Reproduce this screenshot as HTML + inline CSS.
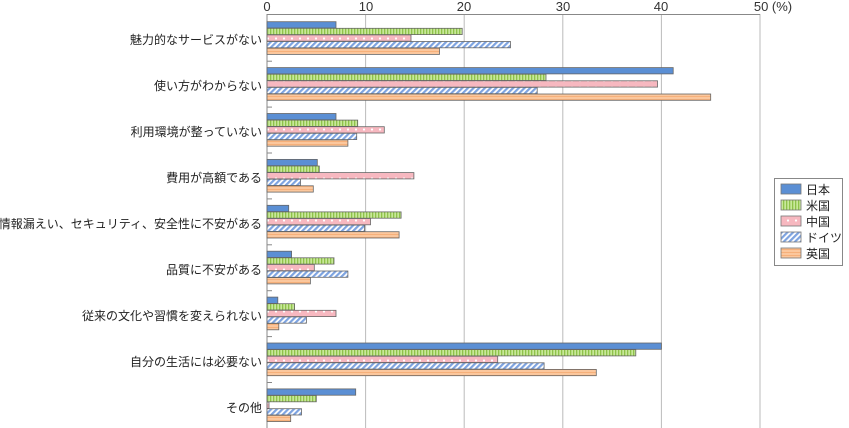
<!DOCTYPE html>
<html><head><meta charset="utf-8"><style>
body{margin:0;background:#fff;width:849px;height:428px;overflow:hidden}
svg{display:block;font-family:"Liberation Sans","Noto Sans CJK JP",sans-serif}
</style></head><body>
<svg id="s" width="849" height="428" viewBox="0 0 849 428">
<defs>
<pattern id="pJ" width="4" height="4" patternUnits="userSpaceOnUse"><rect width="4" height="4" fill="#5b8fd4"/></pattern>
<pattern id="pU" width="3" height="4" patternUnits="userSpaceOnUse"><rect width="3" height="4" fill="#c8e89a"/><rect width="1.3" height="4" fill="#8fc24a"/></pattern>
<pattern id="pC" width="8" height="7" patternUnits="userSpaceOnUse"><rect width="8" height="7" fill="#f7b8c0"/><circle cx="4" cy="3.5" r="1.1" fill="#fff"/></pattern>
<pattern id="pG" width="4" height="4" patternUnits="userSpaceOnUse" patternTransform="rotate(45)"><rect width="4" height="4" fill="#fff"/><rect width="2.2" height="4" fill="#7da3e0"/></pattern>
<pattern id="pE" width="4" height="3" patternUnits="userSpaceOnUse"><rect width="4" height="3" fill="#fbc79d"/><rect width="4" height="1" fill="#f6b07a"/></pattern>
</defs>
<g stroke="#bbb" stroke-width="1">
<line x1="365.6" y1="14" x2="365.6" y2="428"/><line x1="464.2" y1="14" x2="464.2" y2="428"/>
<line x1="562.8" y1="14" x2="562.8" y2="428"/><line x1="661.4" y1="14" x2="661.4" y2="428"/>
<line x1="760" y1="14" x2="760" y2="428"/>
</g>
<line x1="267" y1="14.5" x2="760" y2="14.5" stroke="#888"/>
<line x1="267" y1="14" x2="267" y2="428" stroke="#888"/>
<g font-size="13" fill="#333" text-anchor="middle">
<text x="267" y="11">0</text><text x="366" y="11">10</text><text x="464" y="11">20</text><text x="563" y="11">30</text><text x="661" y="11">40</text><text x="773" y="11">50 (%)</text>
</g>
<g id="bars"></g>
<g font-size="12" fill="#222" text-anchor="end">
<text x="262" y="44">魅力的なサービスがない</text>
<text x="262" y="90">使い方がわからない</text>
<text x="262" y="136">利用環境が整っていない</text>
<text x="262" y="182">費用が高額である</text>
<text x="262" y="228">情報漏えい、セキュリティ、安全性に不安がある</text>
<text x="262" y="274">品質に不安がある</text>
<text x="262" y="320">従来の文化や習慣を変えられない</text>
<text x="262" y="366">自分の生活には必要ない</text>
<text x="262" y="412">その他</text>
</g>
<rect x="774.5" y="178.5" width="68" height="87" fill="#fff" stroke="#888"/>
<g stroke="#777" stroke-width="0.8">
<rect x="781" y="184" width="20" height="10" fill="url(#pJ)"/>
<rect x="781" y="200" width="20" height="10" fill="url(#pU)"/>
<rect x="781" y="216" width="20" height="10" fill="url(#pC)"/>
<rect x="781" y="232" width="20" height="10" fill="url(#pG)"/>
<rect x="781" y="248" width="20" height="10" fill="url(#pE)"/>
</g>
<g font-size="12" fill="#222">
<text x="806" y="194">日本</text><text x="806" y="210">米国</text><text x="806" y="226">中国</text><text x="806" y="242">ドイツ</text><text x="806" y="258">英国</text>
</g>
</svg>
<script>
var d=[[7.0,19.8,14.6,24.7,17.5],[41.2,28.3,39.6,27.4,45.0],[7.0,9.2,11.9,9.1,8.2],[5.1,5.3,14.9,3.4,4.7],[2.2,13.6,10.5,9.9,13.4],[2.5,6.8,4.8,8.2,4.4],[1.1,2.8,7.0,4.0,1.2],[40.0,37.4,23.4,28.1,33.4],[9.0,5.0,0.2,3.5,2.4]];
var f=["pJ","pU","pC","pG","pE"],g=document.getElementById("bars"),h="";
for(var i=0;i<9;i++){var y0=21.7+i*45.9;
 for(var k=0;k<5;k++){h+='<rect x="267" y="'+(y0+k*6.6).toFixed(1)+'" width="'+(d[i][k]*9.86).toFixed(1)+'" height="6.3" fill="url(#'+f[k]+')" stroke="#666" stroke-width="0.8"/>';}
 if(i<8)h+='<line x1="267" x2="272" y1="'+(y0+39.5).toFixed(1)+'" y2="'+(y0+39.5).toFixed(1)+'" stroke="#888"/>';}
g.innerHTML=h;
</script>
</body></html>
